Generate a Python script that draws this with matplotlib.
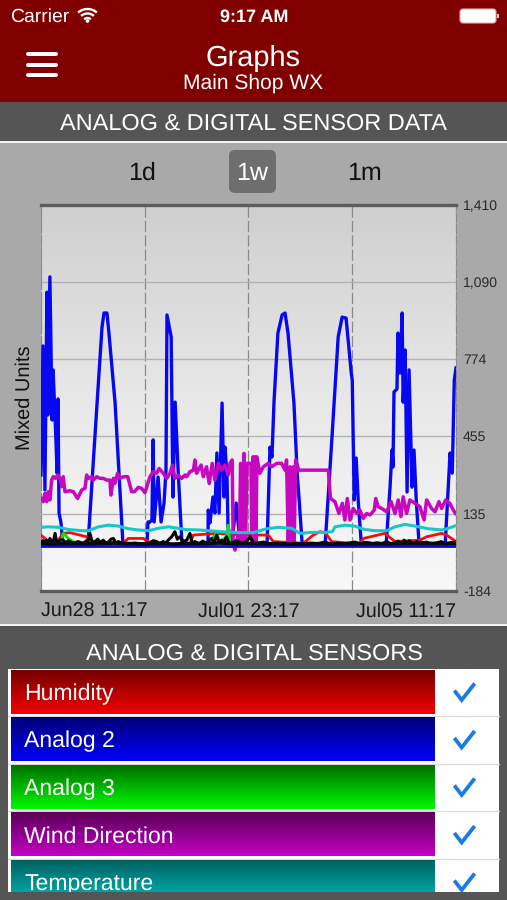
import numpy as np
import matplotlib
matplotlib.use('Agg')
import matplotlib.pyplot as plt
from matplotlib.colors import LinearSegmentedColormap
from matplotlib.patches import Circle, FancyBboxPatch, Rectangle

plt.rcParams['font.family'] = ['Liberation Sans', 'DejaVu Sans']
plt.rcParams['text.hinting'] = 'none'

# hours since Jun28 11:17, sensor values in mixed units
blue_h = [0, 0.8, 1.6, 2.4, 2.8, 3.6, 4.5, 4.9, 6.1, 6.5, 6.9, 7.3, 8.1, 8.9, 19.0, 22.7, 24.7, 25.5, 26.7, 27.5,
          30.0, 33.2, 42.9, 43.3, 44.1, 44.9, 45.4, 45.8, 47.4, 48.6, 49.8, 50.6, 51.0, 52.7, 53.4, 54.3, 55.5, 57.1,
          67.6, 67.7, 68.4, 69.6, 70.4, 71.2, 72.1, 73.3, 74.1, 74.5, 75.3, 75.7, 77.3, 79.0, 80.6, 91.5, 92.7, 93.5,
          94.3, 95.9, 97.6, 98.8, 100, 102.4, 103.7, 104.5, 105.7, 115, 117.9, 120.3, 121.9, 123.5, 125.6, 126, 126.8,
          127.6, 128.4, 129.6, 139.7, 141.3, 142.1, 142.5, 142.9, 144.1, 144.5, 145.3, 146.2, 146.6, 147.4, 148.2, 149,
          150.2, 151, 151.9, 153, 163.6, 165.6, 166.5, 167.3, 168]
blue_v = [295, 828, 233, 1050, 543, 1113, 522, 729, 427, 303, 609, 138, 97, 4, 4, 592, 906, 964, 964, 881,
          592, 4, 4, 101, 101, 109, 440, 101, 287, 101, 179, 315, 956, 865, 204, 596, 315, 4,
          4, 150, 97, 204, 138, 386, 138, 592, 204, 410, 287, 80, 14, 179, 14, 4, 410, 369,
          592, 881, 956, 964, 881, 592, 303, 192, 14, 4, 468, 865, 947, 943, 716, 687, 192,
          365, 192, 18, 4, 245, 398, 328, 638, 650, 881, 716, 964, 596, 811, 225, 729,
          245, 398, 192, 18, 4, 386, 303, 687, 737]
base_h = [0, 168]
base_v = [2, 2]

magenta_h = [0, 0.9, 1.6, 2.3, 3, 3.6, 4.3, 5, 5.9, 6.7, 7.7, 8.4, 9, 9.7, 11.7, 13.1, 14.8, 16.5, 17.8, 18.5,
             19.2, 20.5, 21.2, 22.5, 23.9, 25.2, 26.6, 27.9, 28.3, 29.3, 29.9, 31, 32, 33.3, 35.1, 36.7, 37.8, 39.4,
             40.7, 42.1, 44.1, 45.5, 46.8, 47.8, 49.5, 50.9, 52.2, 53.2, 54.2, 55.6, 56.9, 58.3, 59, 60.3, 61.7, 62.3,
             63, 64.8, 65.7, 67, 68.1, 69.3, 70.4, 71.8, 73.1, 74.5, 75.8, 76.5, 77.4, 77.8, 78.5, 79.9, 80.3, 80.8,
             81.6, 82.2, 82.8, 83.4, 85, 85.3, 85.8, 86.2, 86.6, 87, 87.4, 88.6, 90, 92, 93.4, 95.4, 97.4, 98.8,
             99.4, 100.1, 100.8, 101.5, 102.1, 102.5, 103.1, 104.4, 116.3, 117.2, 119, 120.6, 122, 123, 124, 125.1,
             126.4, 127.8, 129.1, 130.5, 131.8, 133.2, 134.9, 135.5, 136.5, 137.9, 139.9, 141.7, 143.3, 144.6, 145.7,
             146.6, 148, 149.3, 151.4, 153.4, 155.1, 156.1, 158.1, 159.5, 161.1, 162.2, 163.8, 165.5, 166.9, 167.8]
magenta_v = [198, 185, 219, 185, 226, 192, 274, 288, 281, 295, 281, 247, 288, 226, 230, 226, 198, 233, 240, 295,
             281, 288, 274, 288, 281, 281, 274, 274, 212, 281, 260, 302, 281, 288, 288, 226, 226, 244,
             240, 222, 288, 309, 302, 322, 302, 281, 302, 336, 281, 295, 281, 295, 288, 309, 315, 357,
             302, 336, 288, 329, 260, 343, 274, 343, 315, 336, 295, 343, 357, 13, -15, 54, 26, 343,
             13, 384, 13, 343, 343, 19, 370, 19, 370, 19, 370, 302, 329, 343, 329, 343, 343, 315,
             357, 19, 329, 19, 329, 19, 357, 315, 315, 198, 185, 136, 178, 109, 198, 109,
             157, 136, 150, 116, 136, 130, 150, 198, 164, 157, 143, 185, 136, 192, 123,
             205, 136, 192, 178, 164, 109, 192, 157, 143, 185, 157, 192, 178, 150, 136]

cyan_h = [0, 3, 7, 11.1, 16.5, 19.2, 23.2, 27.3, 31.3, 35.4, 39.4, 43.5, 47.5, 51.5, 55.6, 58.3,
          64, 68, 73, 79.9, 86, 91.3, 96, 101.5, 104.8, 109.5, 115, 118, 119, 123, 127, 131,
          135.2, 139.9, 143.3, 147.3, 151.4, 156.8, 162.2, 164.9, 168]
cyan_v = [79, 81, 79, 70, 65, 65, 81, 88, 84, 73, 68, 65, 75, 81, 75, 70,
          68, 65, 61, 57, 57, 73, 79, 75, 54, 58, 58, 61, 81, 88, 84, 70,
          65, 65, 81, 91, 84, 73, 68, 75, 86]

red_h = [0, 2.3, 3.6, 5.7, 7, 9, 11.7, 18.5, 19.8, 33.3, 35.3, 41.4, 43.4, 52.2, 60.3, 61.7, 71.1, 76.5, 83.2,
         92, 94, 106.2, 110.2, 112.9, 115, 117.7, 129.1, 130.5, 139.2, 143.3, 153.4, 156.1, 162.2, 164.2, 168]
red_v = [47, 26, 20, 13, 26, 54, 57, 40, 20, 13, 33, 33, 20, 10, 13, 47, 54, 50, 47,
         47, 20, 13, 47, 61, 57, 20, 10, 33, 54, 20, 26, 40, 54, 47, 20]

green_h = [0, 8, 9, 9.7, 11.1, 13.1, 14.4, 67, 67.7, 69.1, 71.1, 72.4, 75.1, 75.8, 76.5, 77.4, 168]
green_v = [6, 10, 54, 47, 33, 20, 10, 6, 19, 33, 54, 19, 40, 88, 19, 6, 6]

black_h = [0, 0.8, 1.5, 2.3, 3, 3.6, 4.3, 5, 5.7, 6.4, 7, 8, 9, 10, 11, 13.1, 15, 17.1, 18.5, 19.2, 19.8, 20.8, 21.9,
           23, 24, 25.2, 26.2, 27.3, 28.3, 29.3, 30.3, 31.3, 33, 34.7, 38, 41.4, 43, 44.1, 45.5, 46.8, 48, 49.5, 50.5,
           51.5, 52.9, 54.2, 55.2, 56.3, 57.6, 59, 60.3, 61.2, 62.3, 64, 65.5, 67, 68, 69.1, 70, 71.1, 72, 73.1, 74,
           75.1, 76, 77.2, 79, 81, 83.2, 84.6, 86, 87.3, 90, 92.7, 96, 100, 103, 106, 109, 112, 115, 118, 120, 122,
           124, 127, 130, 132, 134, 136, 138, 140, 141.5, 143, 144.5, 146, 147, 148, 149, 150, 151, 152, 154, 156,
           158, 160, 162, 164, 166, 168]
black_v = [13, 24, 14, 26, 15, 33, 18, 20, 54, 16, 20, 28, 26, 14, 24, 13, 20, 13, 24, 26, 54, 16, 20,
           30, 16, 26, 14, 18, 30, 33, 14, 20, 12, 10, 14, 10, 16, 13, 24, 20, 12, 20, 14,
           26, 40, 61, 30, 40, 20, 26, 54, 14, 20, 12, 22, 13, 24, 33, 14, 47, 16, 26, 18,
           40, 16, 13, 24, 14, 20, 40, 16, 13, 18, 10, 14, 8, 13, 10, 14, 12, 18, 8, 14, 10,
           13, 18, 10, 16, 12, 15, 12, 20, 10, 14, 22, 12, 26, 12, 24, 18, 10, 20, 12, 18,
           10, 14, 20, 10, 16, 18]
black_low_h = [0, 6, 12, 20, 30, 40, 50, 54, 57, 64, 72, 80, 90, 104, 120, 135, 150, 168]
black_low_v = [12, 10, 13, 11, 14, 10, 12, 9, 12, 11, 14, 12, 11, 10, 10, 11, 12, 13]

y_ticks = [-184, 135, 455, 774, 1090, 1410]
x_ticks = [0, 42, 84, 126, 168]
x_tick_labels = ['Jun28 11:17', '', 'Jul01 23:17', '', 'Jul05 11:17']

sensor_names = ['Humidity', 'Analog 2', 'Analog 3', 'Wind Direction', 'Temperature']
sensor_top = ['#750000', '#000078', '#007000', '#5a0058', '#006060']
sensor_bottom = ['#f40000', '#0000f8', '#00f800', '#c400c4', '#00bcbc']

px = 0.72  # one pixel in points at dpi 100


def gradient(ax, x0, x1, y0, y1, c0, c1, frac=1.0, zorder=2):
    cmap = LinearSegmentedColormap.from_list('g', [c0, c1])
    g = np.linspace(0, frac, 64).reshape(-1, 1)
    ax.imshow(g, extent=[x0, x1, y1, y0], cmap=cmap, vmin=0, vmax=1, aspect='auto', zorder=zorder)


fig = plt.figure(figsize=(5.07, 9), dpi=100, facecolor='#555555')

# screen furniture, drawn in pixel coordinates
ui = fig.add_axes([0, 0, 1, 1])
ui.axis('off')
ui.add_patch(Rectangle((0, 0), 507, 102, color='#800000', lw=0))
ui.add_patch(Rectangle((0, 102), 507, 39, color='#555555', lw=0))
ui.add_patch(Rectangle((0, 141), 507, 2, color='#f2f2f2', lw=0))
ui.add_patch(Rectangle((0, 143), 507, 481, color='#a9a9a9', lw=0))
ui.add_patch(Rectangle((0, 624), 507, 2, color='#f2f2f2', lw=0))

ui.text(10, 17, 'Carrier', color='white', fontsize=19.4 * px, va='center')
ui.text(254, 17, '9:17 AM', color='white', fontsize=18 * px, va='center', ha='center', fontweight='bold')
for r in [5, 9.5, 14]:
    t = np.radians(np.linspace(48, 132, 20))
    ui.plot(87.5 + r * np.cos(t), 23 - r * np.sin(t), color='white', lw=1.7, solid_capstyle='butt')
ui.add_patch(Circle((87.5, 21), 1.8, color='white', lw=0))
ui.add_patch(FancyBboxPatch((461, 10), 34, 12, boxstyle='round,pad=1,rounding_size=3', fc='white', ec='#e0b0b0', lw=0.8))
ui.add_patch(Rectangle((496.5, 14), 2, 4, color='#e8c8c8', lw=0))

for y in [54, 65, 75]:
    ui.plot([27.5, 55.5], [y, y], color='white', lw=4 * px, solid_capstyle='round')
ui.text(253, 58, 'Graphs', color='white', fontsize=29 * px, ha='center', va='center')
ui.text(253, 83, 'Main Shop WX', color='white', fontsize=21 * px, ha='center', va='center')
ui.text(253, 123.5, 'ANALOG & DIGITAL SENSOR DATA', color='white', fontsize=23.5 * px, ha='center', va='center')

ui.add_patch(FancyBboxPatch((233, 154), 39, 35, boxstyle='round,pad=4,rounding_size=6', fc='#6e6e6e', ec='none'))
ui.text(142, 173.5, '1d', color='#111111', fontsize=25 * px, ha='center', va='center')
ui.text(252, 173.5, '1w', color='white', fontsize=25 * px, ha='center', va='center')
ui.text(364, 173.5, '1m', color='#111111', fontsize=25 * px, ha='center', va='center')

# sensor list
ui.text(254, 653.5, 'ANALOG & DIGITAL SENSORS', color='white', fontsize=23.5 * px, ha='center', va='center')
ui.add_patch(Rectangle((8, 669), 491, 223, color='white', lw=0))
row_tops = [670, 717.5, 765, 812.5, 860]
for y in [716, 763.5, 811, 858.5]:
    ui.plot([8, 499], [y, y], color='#d8d8d8', lw=0.9)
for top, name, c0, c1 in zip(row_tops, sensor_names, sensor_top, sensor_bottom):
    bottom = min(top + 44, 892)
    gradient(ui, 11, 435, top, bottom, c0, c1, frac=(bottom - top) / 44)
    cy = top + 22
    ui.text(24, cy + 2, name, color='white', fontsize=23 * px, va='center', zorder=3)
    ui.plot([455.5, 461.7, 473.5], [cy, cy + 8, cy - 7], color='#1a7ae8', lw=3.8 * px,
            solid_joinstyle='miter', zorder=3)
ui.add_patch(Rectangle((0, 892), 507, 8, color='#555555', lw=0, zorder=4))
ui.set_xlim(0, 507)
ui.set_ylim(900, 0)

# the chart itself
ax = fig.add_axes([41 / 507, 1 - 591 / 900, 415 / 507, 386 / 900])
ax.imshow(np.linspace(0, 1, 128).reshape(-1, 1), extent=[0, 168, -184, 1410], origin='upper', aspect='auto',
          cmap=LinearSegmentedColormap.from_list('bg', ['#cfcfcf', '#e8e8e8', '#f8f8f8']), zorder=0)
ax.plot(blue_h, blue_v, color='#0808f0', lw=2.4, zorder=3, solid_joinstyle='round')
ax.plot(red_h, red_v, color='#f01010', lw=2.0, zorder=4)
ax.plot(green_h, green_v, color='#10e010', lw=2.0, zorder=4)
ax.plot(magenta_h, magenta_v, color='#c808c0', lw=2.5, zorder=5, solid_joinstyle='round')
ax.plot(cyan_h, cyan_v, color='#18c8c8', lw=2.2, zorder=6)
ax.plot(base_h, base_v, color='#0808f0', lw=2.0, zorder=6)
ax.plot(black_h, black_v, color='#080808', lw=2.2, zorder=7)
ax.plot(black_low_h, black_low_v, color='#080808', lw=2.6, zorder=7)

ax.set_xlim(0, 168)
ax.set_ylim(-184, 1410)
ax.set_xticks(x_ticks)
ax.set_xticklabels(x_tick_labels, fontsize=19.6 * px, color='#1a1a1a')
for lab, ha in zip(ax.get_xticklabels(), ['left', 'center', 'center', 'center', 'right']):
    lab.set_ha(ha)
ax.set_yticks(y_ticks)
ax.set_yticklabels([f'{v:,}' for v in y_ticks], fontsize=14 * px, color='#2a2a2a')
ax.yaxis.tick_right()
ax.yaxis.set_label_position('left')
ax.set_ylabel('Mixed Units', fontsize=20 * px, color='#111111', labelpad=5)
ax.tick_params(axis='both', length=0)
ax.tick_params(axis='x', pad=8)
ax.tick_params(axis='y', pad=5)
ax.grid(True, axis='y', color='#b2b2b2', lw=1.0, zorder=1)
ax.grid(True, axis='x', color='#8a8a8a', lw=0.9, ls=(0, (9, 2.5)), zorder=1)
ax.set_axisbelow(True)
for side in ['top', 'bottom']:
    ax.spines[side].set_color('#5c5c5c')
    ax.spines[side].set_linewidth(2.4)
for side in ['left', 'right']:
    ax.spines[side].set_color('#8a8a8a')
    ax.spines[side].set_linewidth(0.7)
    ax.spines[side].set_linestyle((0, (9, 2.5)))

plt.savefig('out.png', dpi=100)
